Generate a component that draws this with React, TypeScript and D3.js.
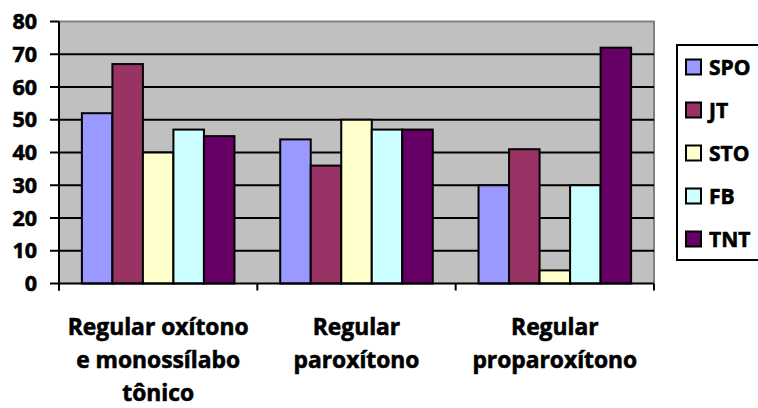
import React from "react";
import * as d3 from "d3";

const categories = [
  ["Regular oxítono", "e monossílabo", "tônico"],
  ["Regular", "paroxítono"],
  ["Regular", "proparoxítono"],
];
const seriesNames = ["SPO", "JT", "STO", "FB", "TNT"];
const seriesColors = ["#9999FF", "#993366", "#FFFFCC", "#CCFFFF", "#660066"];
const spo = [52, 44, 30];
const jt = [67, 36, 41];
const sto = [40, 50, 4];
const fb = [47, 47, 30];
const tnt = [45, 47, 72];
const yTicks = [0, 10, 20, 30, 40, 50, 60, 70, 80];

const seriesValues = [spo, jt, sto, fb, tnt];

const W = 758;
const H = 408;
const plot = { left: 59, right: 654, top: 21.5, bottom: 283.5 };
const FONT = "'Open Sans', Lato, sans-serif";
// heavier glyphs for all labels
const textStyle = { stroke: "#000", strokeWidth: 0.6, paintOrder: "stroke" } as const;

export default function App() {
  const catIdx = categories.map((_, i) => String(i));
  const x0 = d3.scaleBand<string>().domain(catIdx).range([plot.left, plot.right]).padding(0);
  const bw = x0.bandwidth();
  const barW = bw / 6.5;
  const x1 = d3
    .scaleBand<string>()
    .domain(seriesNames)
    .range([barW * 0.75, bw - barW * 0.75])
    .padding(0);
  const y = d3.scaleLinear().domain([0, 80]).range([plot.bottom, plot.top]);

  const catTicks = [...catIdx.map((c) => x0(c) as number), plot.right];

  return (
    <svg
      width={W}
      height={H}
      style={{ position: "absolute", left: 0, top: 0, display: "block", background: "#fff" }}
    >
      {/* plot background */}
      <rect
        x={plot.left}
        y={plot.top}
        width={plot.right - plot.left}
        height={plot.bottom - plot.top}
        fill="#C0C0C0"
      />
      {/* top & right frame */}
      <path
        d={`M${plot.left},${plot.top}H${plot.right}V${plot.bottom}`}
        fill="none"
        stroke="#808080"
        strokeWidth={2}
      />
      {/* gridlines */}
      {yTicks
        .filter((t) => t > 0 && t < 80)
        .map((t) => (
          <line
            key={`g${t}`}
            x1={plot.left}
            x2={plot.right}
            y1={y(t)}
            y2={y(t)}
            stroke="#000"
            strokeWidth={2}
          />
        ))}
      {/* bars */}
      {catIdx.map((c, ci) =>
        seriesNames.map((s, si) => {
          const v = seriesValues[si][ci];
          const bx = (x0(c) as number) + (x1(s) as number);
          return (
            <rect
              key={`${c}-${s}`}
              x={bx}
              y={y(v)}
              width={x1.bandwidth()}
              height={y(0) - y(v)}
              fill={seriesColors[si]}
              stroke="#000"
              strokeWidth={2}
            />
          );
        })
      )}
      {/* y axis */}
      <line x1={plot.left} x2={plot.left} y1={plot.top} y2={plot.bottom + 7} stroke="#000" strokeWidth={2} />
      {yTicks.map((t) => (
        <g key={`t${t}`}>
          <line x1={plot.left - 9} x2={plot.left} y1={y(t)} y2={y(t)} stroke="#000" strokeWidth={2} />
          <text
            x={37}
            y={y(t) + 7.5}
            textAnchor="end"
            fontFamily={FONT}
            fontWeight="bold"
            fontSize={21.5}
            fill="#000"
            style={textStyle}
          >
            {t}
          </text>
        </g>
      ))}
      {/* x axis */}
      <line x1={plot.left} x2={plot.right} y1={plot.bottom} y2={plot.bottom} stroke="#000" strokeWidth={2} />
      {catTicks.map((tx, i) => (
        <line key={`ct${i}`} x1={tx} x2={tx} y1={plot.bottom} y2={plot.bottom + 7} stroke="#000" strokeWidth={2} />
      ))}
      {categories.map((lines, ci) => (
        <text
          key={`cl${ci}`}
          x={(x0(String(ci)) as number) + bw / 2}
          y={335}
          textAnchor="middle"
          fontFamily={FONT}
          fontWeight="bold"
          fontSize={22.8}
          fill="#000"
          style={textStyle}
        >
          {lines.map((l, li) => (
            <tspan key={li} x={(x0(String(ci)) as number) + bw / 2} dy={li === 0 ? 0 : 33}>
              {l}
            </tspan>
          ))}
        </text>
      ))}
      {/* legend */}
      <rect x={677} y={45} width={100} height={215} fill="#fff" stroke="#000" strokeWidth={2} />
      {seriesNames.map((s, i) => {
        const cy = 67 + i * 43;
        return (
          <g key={`lg${s}`}>
            <rect x={686} y={cy - 7.5} width={15} height={15} fill={seriesColors[i]} stroke="#000" strokeWidth={2} />
            <text
              x={709}
              y={cy + 7.5}
              fontFamily={FONT}
              fontWeight="bold"
              fontSize={21}
              fill="#000"
              style={textStyle}
            >
              {s}
            </text>
          </g>
        );
      })}
    </svg>
  );
}
